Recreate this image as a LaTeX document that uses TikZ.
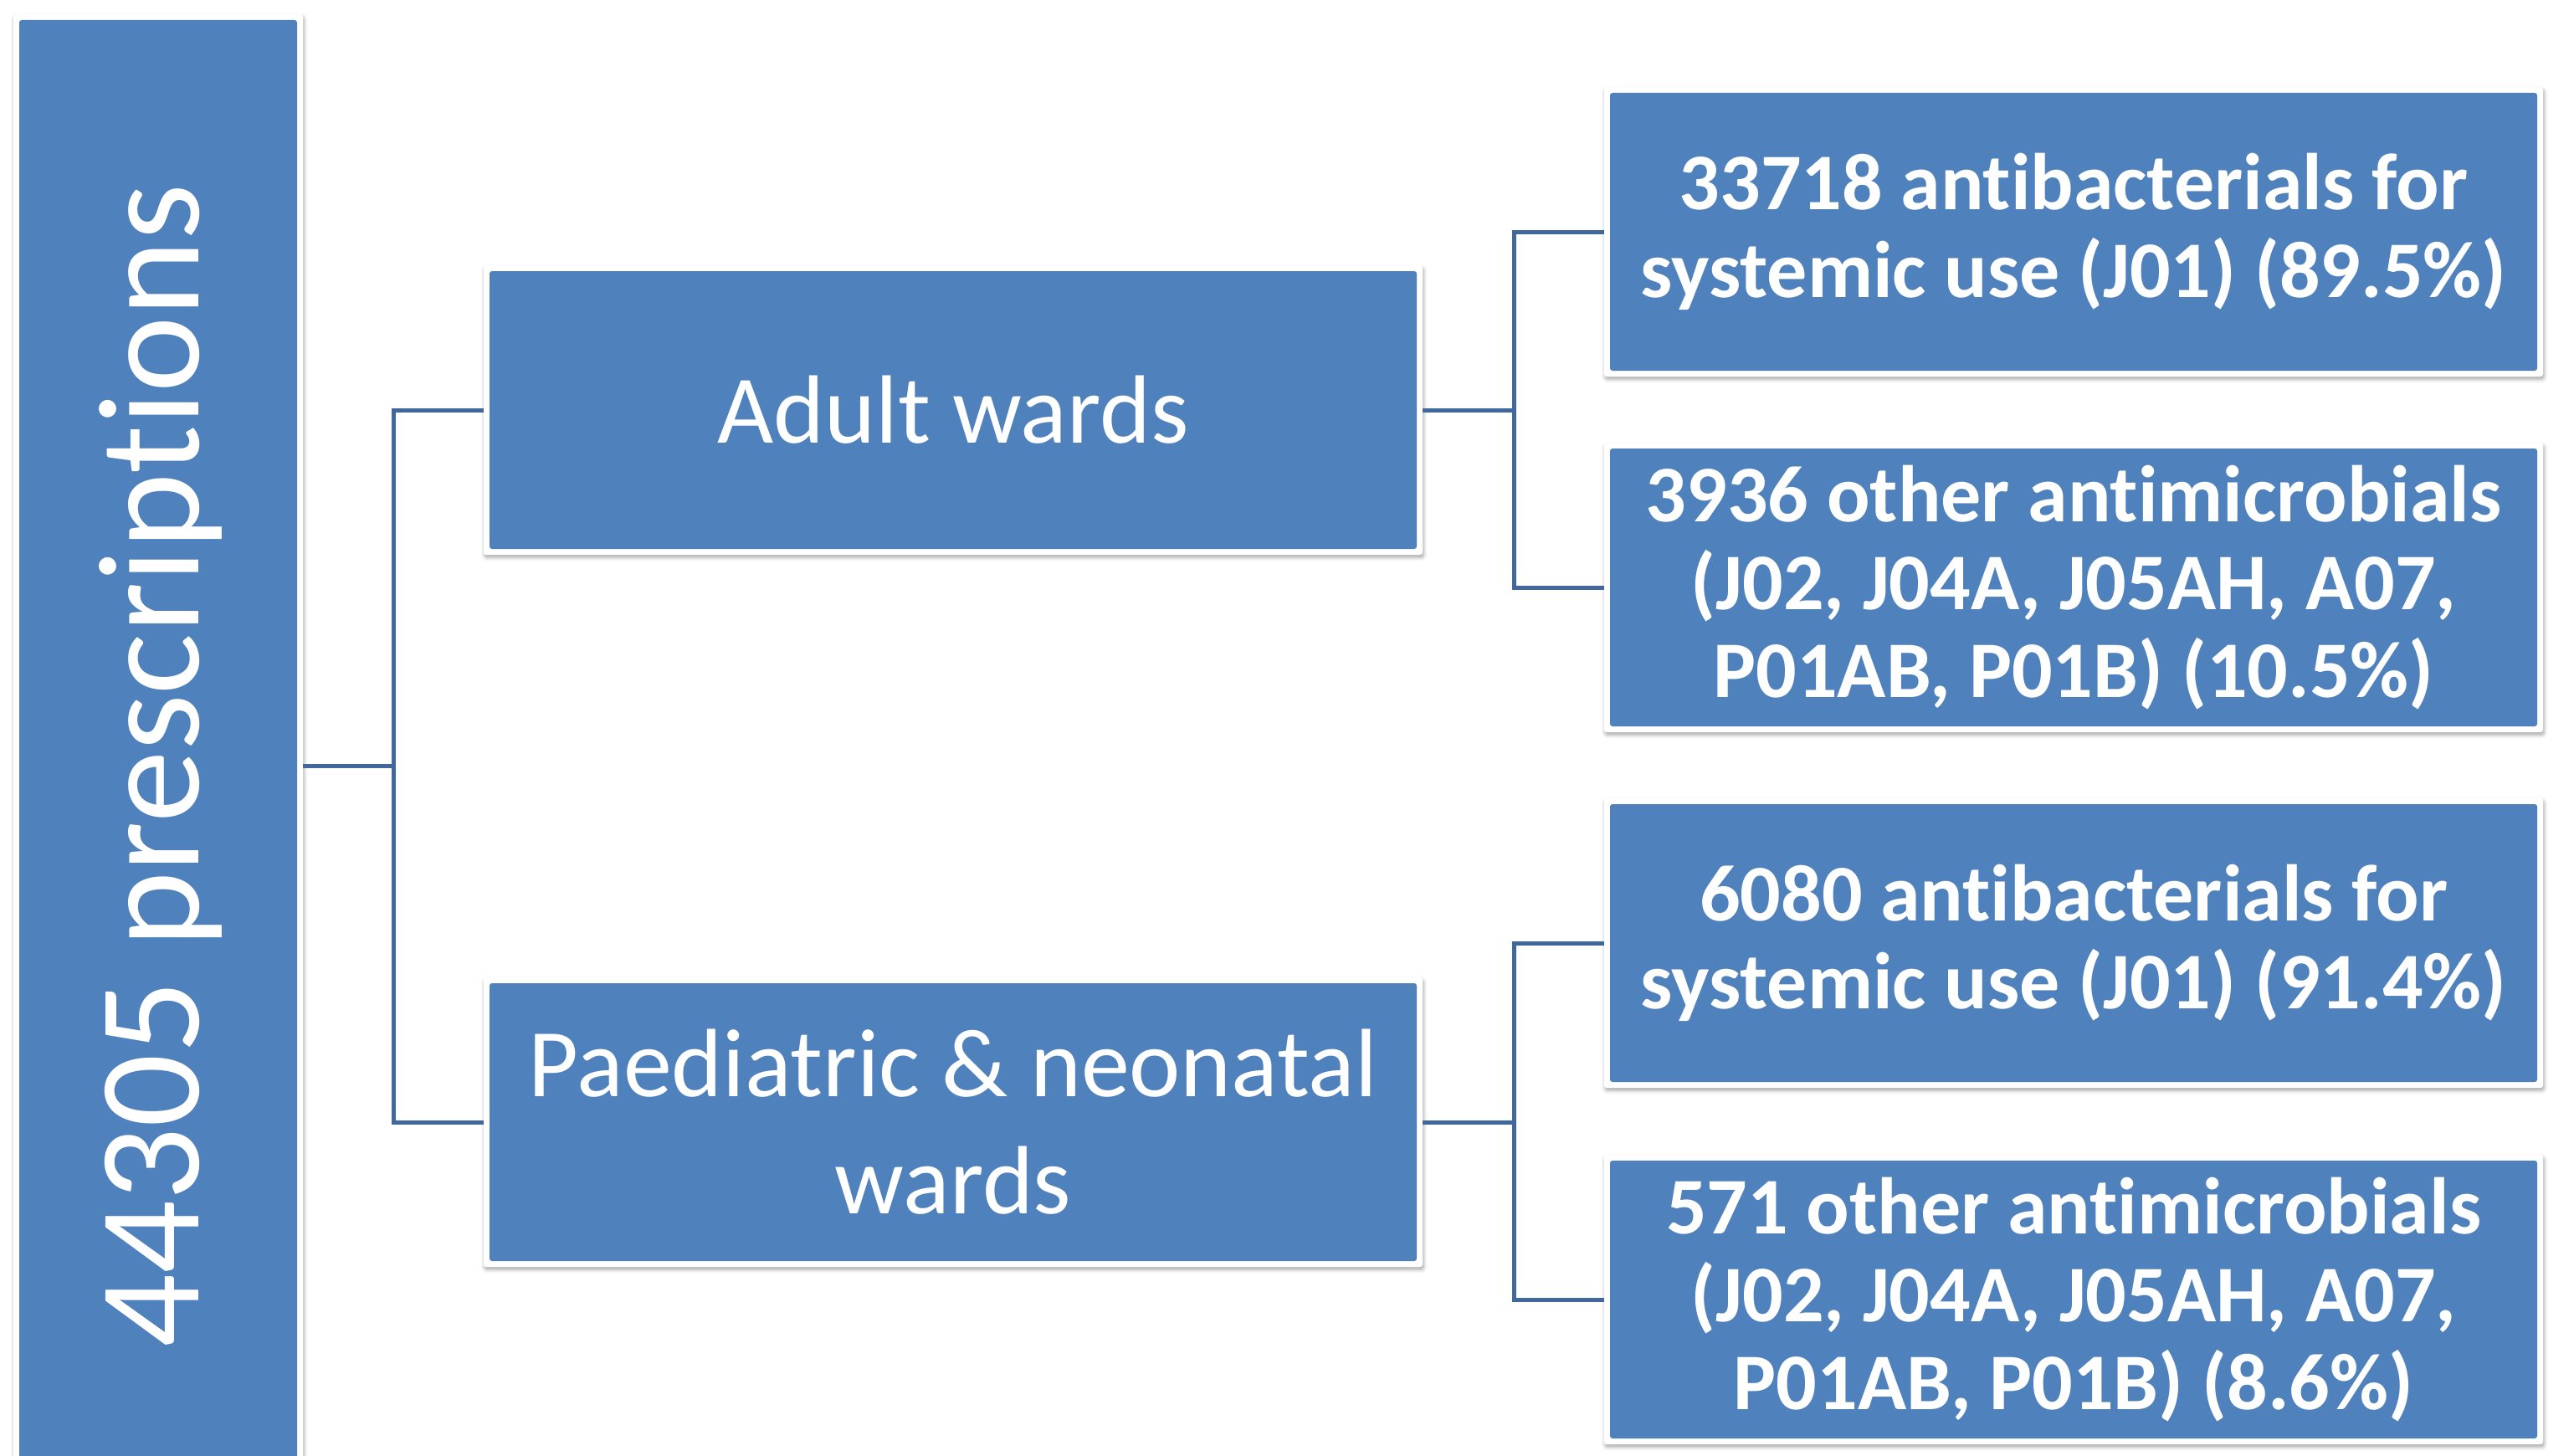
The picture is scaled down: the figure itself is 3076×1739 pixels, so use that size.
\documentclass[tikz,border=0pt]{standalone}
\usepackage{fontspec}
\setmainfont{Carlito}[Ligatures={NoCommon,NoRare,NoContextual},Contextuals=NoAlternate]
\usetikzlibrary{shadows.blur}
\newcommand{\nolti}{t\kern0pt i}
\definecolor{boxblue}{HTML}{4F81BD}
\definecolor{linkblue}{HTML}{41689C}
\tikzset{
  px/.style={x=0.5pt,y=-0.5pt},
  wardbox/.style={
    rectangle, rounded corners=1.5pt, fill=white,
    minimum width=561pt, minimum height=173pt, inner sep=0pt,
    text=white, align=center,
    blur shadow={shadow xshift=0.6pt, shadow yshift=-1.6pt, shadow blur radius=2.2pt, shadow opacity=35},
    path picture={\fill[boxblue] ([shift={(3.5pt,3.5pt)}]path picture bounding box.south west) rectangle ([shift={(-3.5pt,-3.5pt)}]path picture bounding box.north east);}
  },
  tallbox/.style={wardbox, minimum width=173pt, minimum height=898pt},
  conn/.style={draw=linkblue, line width=2.5pt}
}
\begin{document}
\begin{tikzpicture}[px]
\useasboundingbox (0,0) rectangle (3076,1739);
\begin{scope}
\clip (0,0) rectangle (3076,1739);
% root box (extends below the picture)
\node[tallbox] (L) at (189,915) {};
\node[rotate=90, anchor=base, text=white, font=\fontsize{86.5pt}{100pt}\selectfont] (Lt) at (237,915) {44305 prescrip\nolti ons};

% ward boxes
\node[wardbox, font=\fontsize{58pt}{70pt}\selectfont] (A) at (1139,490) {Adult wards};
\node[wardbox, font=\fontsize{58pt}{70pt}\selectfont] (P) at (1139,1341) {Paediatric \& neonatal\\wards};

% leaf boxes
\node[wardbox, font=\bfseries\fontsize{48pt}{52.5pt}\selectfont] (R1) at (2478,277) {33718 an\nolti bacterials for\\systemic use (J01) (89.5\%)};
\node[wardbox, font=\bfseries\fontsize{48pt}{52.5pt}\selectfont] (R2) at (2478,702) {3936 other an\nolti microbials\\(J02, J04A, J05AH, A07,\\P01AB, P01B) (10.5\%)};
\node[wardbox, font=\bfseries\fontsize{48pt}{52.5pt}\selectfont] (R3) at (2478,1127) {6080 an\nolti bacterials for\\systemic use (J01) (91.4\%)};
\node[wardbox, font=\bfseries\fontsize{48pt}{52.5pt}\selectfont] (R4) at (2478,1553) {571 other an\nolti microbials\\(J02, J04A, J05AH, A07,\\P01AB, P01B) (8.6\%)};

% connectors
\coordinate (j1) at (470,915);
\coordinate (j2) at (1809,490);
\coordinate (j3) at (1809,1341);
\draw[conn] (L.east) -- (j1);
\draw[conn] (A.west) -| (j1) |- (P.west);
\draw[conn] (A.east) -- (j2);
\draw[conn] (R1.west) -| (j2) |- (R2.west);
\draw[conn] (P.east) -- (j3);
\draw[conn] (R3.west) -| (j3) |- (R4.west);
\end{scope}
\end{tikzpicture}
\end{document}
